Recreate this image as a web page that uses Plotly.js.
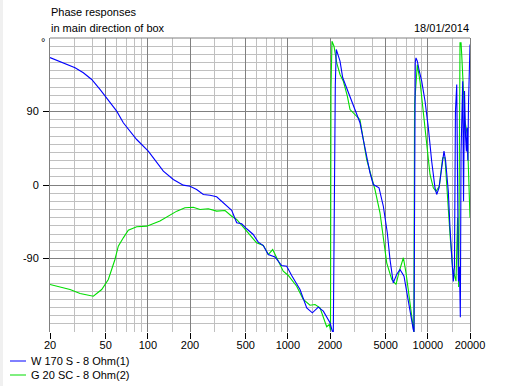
<!DOCTYPE html>
<html>
<head>
<meta charset="utf-8">
<script src="https://cdn.plot.ly/plotly-3.0.1.min.js"></script>
<style>html,body{margin:0;padding:0;background:#fff;}#chart{width:518px;height:386px;}</style>
</head>
<body>
<div id="chart"></div>
<script>
// ---- Data ----
const seriesNames = ["W 170 S - 8 Ohm(1)", "G 20 SC - 8 Ohm(2)"];

const freqW = [20, 24.9, 30.2, 34.6, 39.7, 45.5, 50.8, 59.9, 66.8, 83.2, 100.7, 122, 129, 152, 179, 200, 223, 249, 278, 310, 346, 397, 431, 468, 508, 566, 615, 668, 725, 809, 903, 981, 1065, 1221, 1364, 1496, 1650, 1792, 2000, 2076, 2112, 2154, 2182, 2218, 2254, 2358, 2466, 2602, 2704, 2858, 3020, 3276, 3458, 3656, 3862, 4076, 4478, 4808, 5132, 5366, 5662, 5984, 6325, 6756, 7064, 7456, 7870, 7962, 8028, 8128, 8226, 8410, 8690, 9038, 9550, 10080, 10650, 11246, 11560, 12016, 12560, 13040, 13400, 13996, 14394, 14800, 15200, 15490, 15740, 16080, 16300, 16540, 16820, 17060, 17260, 17540, 17740, 17980, 18280, 18580, 18840, 19060, 19300, 19520, 19780, 20000];
const phaseW = [156, 149.6, 143.5, 137.4, 129.2, 117, 106.8, 90.4, 76.2, 55.7, 41.4, 23, 16.9, 6.7, -0.2, -1.5, -5.5, -11.6, -12.5, -14.5, -21.8, -30.9, -46.3, -47.5, -53.6, -60.6, -70, -74.1, -85.1, -88, -98.6, -99.4, -110.8, -128, -150.4, -156.5, -149.6, -154.5, -168.7, -179, -180, 68, 122, 166, 161.9, 151.6, 131.3, 121, 114.9, 102.6, 92.4, 76.2, 55.7, 35.3, 14.9, 0.6, -3.4, -26, -58.5, -91.2, -119.8, -109.6, -103.5, -111.7, -132, -152.4, -177, -180, -8, 150, 155.7, 151.6, 139.3, 127.1, 102.6, 70, 29.1, -3.4, -11.6, -3.4, 21.1, 41.4, 29.1, -7.6, -52.4, -93.3, -118, -100, 90, 123, -30, -118, -100, -162, 40, 95, 127, -20, 115, 60, 41, 70, 30, 100, 146, 172];

const freqG = [20, 23.6, 27.8, 32.8, 40.8, 46.8, 52.2, 58.2, 61.5, 66.8, 72.5, 83.2, 98.2, 122, 144, 161, 184, 211, 236, 270, 310, 356, 397, 431, 508, 598, 668, 725, 779, 854, 927, 1007, 1156, 1289, 1439, 1563, 1697, 1894, 1978, 2017, 2032, 2066, 2136, 2234, 2358, 2491, 2660, 2780, 2935, 3276, 3656, 3964, 4189, 4550, 4808, 5083, 5521, 5923, 6252, 6686, 6983, 7456, 7870, 7940, 8036, 8160, 8410, 8786, 9274, 9812, 10360, 10940, 11430, 12070, 12760, 13250, 13760, 14394, 15030, 15886, 16300, 16600, 16970, 17260, 17450, 17920, 18400, 19140, 19450, 19780, 20000];
const phaseG = [-121.8, -125.1, -128, -132.9, -136.2, -128, -115.7, -91.2, -74.9, -64.7, -55.3, -51.2, -50.4, -44, -37, -32, -27.9, -27.2, -30, -29.1, -32, -31.2, -38.2, -42.2, -56.6, -70.8, -74.1, -85.1, -79, -93.3, -105.5, -110.8, -123.9, -140.2, -147.2, -146.3, -150.4, -173.6, -170.8, -178, 117, 176, 170, 149.6, 135.3, 127, 108.7, 92.4, 88.4, 80, 31.2, 10.8, -5.5, -34, -66.7, -95.3, -115.7, -121.8, -105.5, -89.1, -107.5, -148.4, -177, -180, 98, 120, 147.5, 127, 90.4, 49.6, 12.9, -3.4, -7.6, -1.5, 33.3, 33.3, -11.6, -60.6, -101.4, -117.8, -40, -125, 174, 174, 159.8, 123, 78.1, 61.8, 29.1, 5, -40];

const xTickVals = [20, 50, 100, 200, 500, 1000, 2000, 5000, 10000, 20000];
const xTickText = ["20", "50", "100", "200", "500", "1000", "2000", "5000", "10000", "20000"];
const xMinorVals = [30, 40, 60, 70, 80, 90, 150, 300, 400, 600, 700, 800, 900, 1500, 3000, 4000, 6000, 7000, 8000, 9000, 15000];
const yTickVals = [90, 0, -90];
const yTickText = ["90", "0", "-90"];
const yMinorVals = [];
for (let v = -170; v <= 170; v += 10) { if (v % 90 !== 0) yMinorVals.push(v); }

const titleLines = ["Phase responses", "in main direction of box"];
const dateText = "18/01/2014";
const unitText = "°";

// ---- Chart ----
const colors = ["#0000ff", "#00dd00"];
const FONT = "Liberation Sans, Arial, sans-serif";
const L = 50, T = 38, W = 420, H = 294;
const px = x => (x - L) / W;
const py = y => (T + H - y) / H;

const traces = [
  {x: freqG, y: phaseG, name: seriesNames[1], type: "scatter", mode: "lines", line: {color: colors[1], width: 1.1}, hoverinfo: "skip"},
  {x: freqW, y: phaseW, name: seriesNames[0], type: "scatter", mode: "lines", line: {color: colors[0], width: 1.1}, hoverinfo: "skip"}
];

const layout = {
  width: 518, height: 386,
  margin: {l: L, r: 518 - L - W, t: T, b: 386 - T - H, pad: 0},
  paper_bgcolor: "#ffffff", plot_bgcolor: "#ffffff",
  showlegend: false,
  font: {family: FONT, size: 11, color: "#000"},
  xaxis: {
    type: "log", range: [Math.log10(20), Math.log10(20000)],
    tickmode: "array", tickvals: xTickVals, ticktext: xTickText,
    ticks: "outside", ticklen: 6, tickwidth: 1, tickcolor: "#000",
    ticklabelstandoff: -3,
    tickfont: {family: FONT, size: 11, color: "#000"},
    showgrid: true, gridcolor: "#808080", gridwidth: 1,
    minor: {tickmode: "array", tickvals: xMinorVals, showgrid: true, gridcolor: "#c0c0c0", gridwidth: 1, ticks: ""},
    zeroline: false, showline: false, fixedrange: true
  },
  yaxis: {
    range: [-180, 180],
    tickmode: "array", tickvals: yTickVals, ticktext: yTickText,
    ticks: "outside", ticklen: 6, tickwidth: 1, tickcolor: "#000",
    ticklabelstandoff: 2,
    tickfont: {family: FONT, size: 11, color: "#000"},
    showgrid: true, gridcolor: "#808080", gridwidth: 1,
    minor: {tickmode: "array", tickvals: yMinorVals, showgrid: true, gridcolor: "#c0c0c0", gridwidth: 1, ticks: ""},
    zeroline: false, showline: true, mirror: true, linecolor: "#808080", linewidth: 1, fixedrange: true
  },
  shapes: [
    {type: "rect", xref: "paper", yref: "paper", x0: px(0), x1: px(3), y0: py(386), y1: py(0), fillcolor: "#f0f0f0", line: {width: 0}, layer: "below"},
    {type: "line", xref: "paper", yref: "paper", x0: 0, x1: 1, y0: 1, y1: 1, line: {color: "#808080", width: 1}},
    {type: "line", xref: "paper", yref: "paper", x0: px(10), x1: px(26), y0: py(361), y1: py(361), line: {color: colors[0], width: 1}},
    {type: "line", xref: "paper", yref: "paper", x0: px(10), x1: px(26), y0: py(375), y1: py(375), line: {color: colors[1], width: 1}}
  ],
  annotations: [
    {text: titleLines[0], xref: "paper", yref: "paper", x: px(49), y: py(12), xanchor: "left", yanchor: "middle", showarrow: false, font: {family: FONT, size: 11, color: "#000"}},
    {text: titleLines[1], xref: "paper", yref: "paper", x: px(49), y: py(28), xanchor: "left", yanchor: "middle", showarrow: false, font: {family: FONT, size: 11, color: "#000"}},
    {text: dateText, xref: "paper", yref: "paper", x: px(471), y: py(28), xanchor: "right", yanchor: "middle", showarrow: false, font: {family: FONT, size: 11, color: "#000"}},
    {text: unitText, xref: "paper", yref: "paper", x: px(43), y: py(42.5), xanchor: "center", yanchor: "middle", showarrow: false, font: {family: FONT, size: 11, color: "#000"}},
    {text: seriesNames[0], xref: "paper", yref: "paper", x: px(29), y: py(361), xanchor: "left", yanchor: "middle", showarrow: false, font: {family: FONT, size: 11, color: "#000"}},
    {text: seriesNames[1], xref: "paper", yref: "paper", x: px(29), y: py(375), xanchor: "left", yanchor: "middle", showarrow: false, font: {family: FONT, size: 11, color: "#000"}}
  ]
};

Plotly.newPlot("chart", traces, layout, {staticPlot: true, displayModeBar: false});
</script>
</body>
</html>
